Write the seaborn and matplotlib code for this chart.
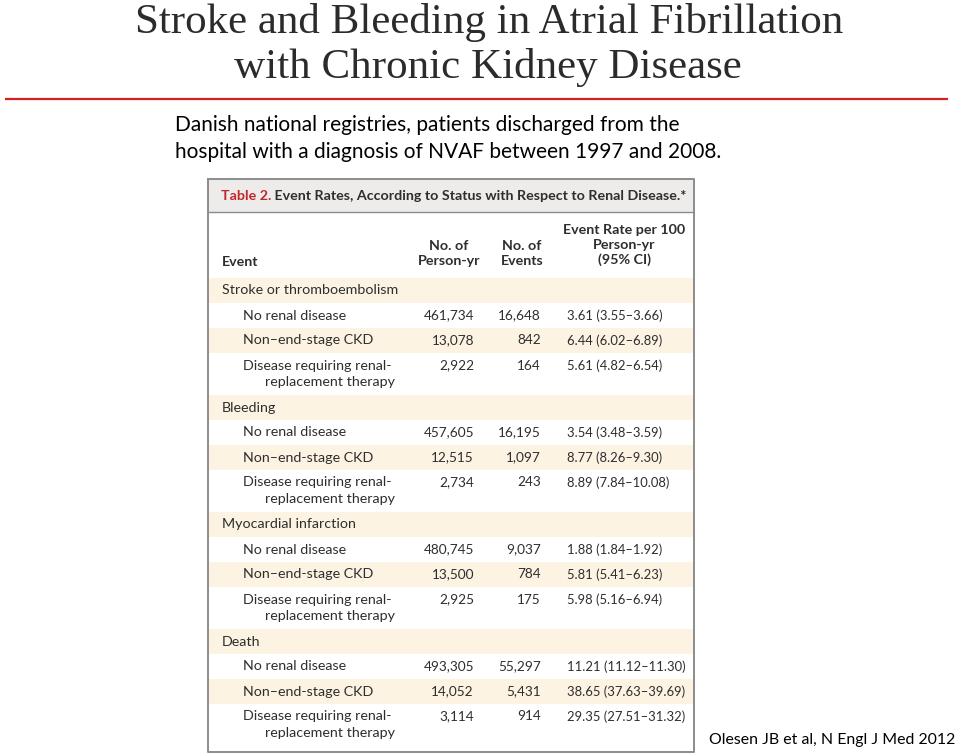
import matplotlib
matplotlib.use("Agg")
import matplotlib.pyplot as plt
import seaborn as sns

# ---------------- data ----------------
title_lines = ["Stroke and Bleeding in Atrial Fibrillation", "with Chronic Kidney Disease"]
subtitle_lines = ["Danish national registries, patients discharged from the",
                  "hospital with a diagnosis of NVAF between 1997 and 2008."]
citation = "Olesen JB et al, N Engl J Med 2012"
table_title_red = "Table 2."
table_title_rest = " Event Rates, According to Status with Respect to Renal Disease.*"
col_headers = ["Event", "No. of\nPerson-yr", "No. of\nEvents", "Event Rate per 100\nPerson-yr\n(95% CI)"]

events = ["Stroke or thromboembolism", "Bleeding", "Myocardial infarction", "Death"]
subgroups = ["No renal disease", "Non\u2013end-stage CKD", "Disease requiring renal-\nreplacement therapy"]
person_yr = [[461734, 13078, 2922], [457605, 12515, 2734], [480745, 13500, 2925], [493305, 14052, 3114]]
n_events = [[16648, 842, 164], [16195, 1097, 243], [9037, 784, 175], [55297, 5431, 914]]
rate = [[3.61, 6.44, 5.61], [3.54, 8.77, 8.89], [1.88, 5.81, 5.98], [11.21, 38.65, 29.35]]
ci_lo = [[3.55, 6.02, 4.82], [3.48, 8.26, 7.84], [1.84, 5.41, 5.16], [11.12, 37.63, 27.51]]
ci_hi = [[3.66, 6.89, 6.54], [3.59, 9.30, 10.08], [1.92, 6.23, 6.94], [11.30, 39.69, 31.32]]

# ---------------- style ----------------
sns.set_theme(style="white")
plt.rcParams["font.family"] = ["Lato", "DejaVu Sans"]

W, H = 960, 754
fig = plt.figure(figsize=(W / 100, H / 100), dpi=100)
ax = fig.add_axes([0, 0, 1, 1])
ax.set_xlim(0, W)
ax.set_ylim(H, 0)
ax.axis("off")

TXT = "#2e2e2e"
CREAM = "#fcf3e3"
HEAD = "#eeecea"
BORDER = "#8c8c8c"

# slide title
ax.text(489, 33, title_lines[0], ha="center", va="baseline", fontsize=31,
        family="Liberation Serif", color="#2b2b2b")
ax.text(488, 78, title_lines[1], ha="center", va="baseline", fontsize=31,
        family="Liberation Serif", color="#2b2b2b")
ax.plot([5, 948], [99, 99], color="#d42020", lw=1.6, solid_capstyle="butt")

# subtitle
for i, s in enumerate(subtitle_lines):
    ax.text(175, 125 + 27 * i, s, ha="left", va="center", fontsize=15, color="black")

# citation
ax.text(955, 740, citation, ha="right", va="center", fontsize=11.4, color="black")

# ---------------- table ----------------
L, R, T, B = 208, 694, 179, 752
ax.axhspan(T, 212, xmin=L / W, xmax=R / W, color=HEAD, lw=0)
ax.plot([L, R], [212, 212], color=BORDER, lw=1)

SEC_H, ROW_H, ROW2_H = 25, 25, 42
y = 278
rows = []
for ei, ev in enumerate(events):
    rows.append(("sec", y, y + SEC_H, ei, None))
    y += SEC_H
    for si, sg in enumerate(subgroups):
        h = ROW2_H if "\n" in sg else ROW_H
        rows.append(("sub", y, y + h, ei, si))
        y += h

for kind, top, bot, ei, si in rows:
    if kind == "sec" or si == 1:
        ax.axhspan(top, bot, xmin=(L + 1) / W, xmax=(R - 1) / W, color=CREAM, lw=0)

ax.plot([L, R, R, L, L], [T, T, B, B, T], color=BORDER, lw=1.4)

fs = 10.3
fs_title = 10.3
t1 = ax.text(221, 196, table_title_red, ha="left", va="center", fontsize=fs_title,
             color="#c0262c", fontweight="bold")
fig.canvas.draw()
bb = t1.get_window_extent()
xd = ax.transData.inverted().transform((bb.x1, 0))[0]
ax.text(xd, 196, table_title_rest, ha="left", va="center", fontsize=fs_title,
        color=TXT, fontweight="bold")

ax.text(222, 262, col_headers[0], ha="left", va="center", fontsize=fs, color=TXT, fontweight="bold")
ax.text(449, 253.5, col_headers[1], ha="center", va="center", fontsize=fs, color=TXT,
        fontweight="bold", linespacing=1.25)
ax.text(522, 253.5, col_headers[2], ha="center", va="center", fontsize=fs, color=TXT,
        fontweight="bold", linespacing=1.25)
ax.text(624, 245, col_headers[3], ha="center", va="center", fontsize=fs, color=TXT,
        fontweight="bold", linespacing=1.25)

X_PY, X_EV, X_RATE = 474, 541, 567
fs_num = 9.8
for kind, top, bot, ei, si in rows:
    if kind == "sec":
        ax.text(222, (top + bot) / 2, events[ei], ha="left", va="center", fontsize=fs, color=TXT)
        continue
    yl = top + 12.5
    sg = subgroups[si]
    if "\n" in sg:
        a, b = sg.split("\n")
        ax.text(243, yl, a, ha="left", va="center", fontsize=fs, color=TXT)
        ax.text(265, yl + 16.5, b, ha="left", va="center", fontsize=fs, color=TXT)
    else:
        ax.text(243, yl, sg, ha="left", va="center", fontsize=fs, color=TXT)
    ax.text(X_PY, yl, f"{person_yr[ei][si]:,}", ha="right", va="center", fontsize=fs_num, color=TXT)
    ax.text(X_EV, yl, f"{n_events[ei][si]:,}", ha="right", va="center", fontsize=fs_num, color=TXT)
    ax.text(X_RATE, yl, f"{rate[ei][si]:.2f} ({ci_lo[ei][si]:.2f}\u2013{ci_hi[ei][si]:.2f})",
            ha="left", va="center", fontsize=9.4, color=TXT)

fig.savefig("out.png", dpi=100)
